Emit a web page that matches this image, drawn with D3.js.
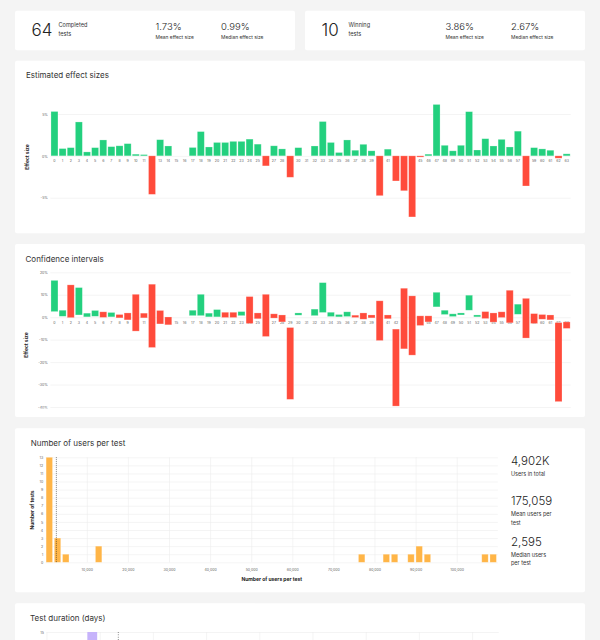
<!DOCTYPE html>
<html>
<head>
<meta charset="utf-8">
<script src="https://cdn.jsdelivr.net/npm/d3@7"></script>
<style>
  html, body { margin: 0; padding: 0; background: #f4f4f4; }
  svg { display: block; font-family: Inter, "Noto Sans", sans-serif; }
</style>
</head>
<body>
<svg id="chart"></svg>
<script>
const W = 600, H = 640;

// summary cards
const summaryCount = ['64', '10'];
const summaryLabel = [['Completed', 'tests'], ['Winning', 'tests']];
const meanEffect = ['1.73%', '3.86%'];
const medianEffect = ['0.99%', '2.67%'];

// tests 0..63
const tests = [0, 1, 2, 3, 4, 5, 6, 7, 8, 9, 10, 11, 12, 13, 14, 15, 16, 17, 18, 19,
  20, 21, 22, 23, 24, 25, 26, 27, 28, 29, 30, 31, 32, 33, 34, 35, 36, 37, 38, 39,
  40, 41, 42, 43, 44, 45, 46, 47, 48, 49, 50, 51, 52, 53, 54, 55, 56, 57, 58, 59,
  60, 61, 62, 63];

// estimated effect size (%)
const effectSize = [5.3, 0.87, 0.98, 4.05, 0.47, 0.98, 1.9, 1.1, 1.2, 1.46,
  0.2, 0.15, -4.6, 1.93, 1.18, 0, 0, 1.0, 2.9, 1.06,
  1.6, 1.6, 1.73, 1.73, 2.0, 1.4, -1.2, 1.2, 0.83, -2.56,
  0.98, 0, 1.18, 4.1, 1.6, 0.4, 1.9, 0.67, 1.38, 0.6,
  -4.76, 0.8, -3.0, -4.17, -7.3, -0.15, 0.2, 6.14, 1.26, 0.6,
  1.26, 5.28, 0.7, 2.05, 1.18, 1.97, 1.06, 2.95, -3.6, 0.98,
  0.83, 0.67, -0.28, 0.24];

// confidence interval bounds (%)
const ciLow = [2.5, 0.4, -0.2, 1.0, 0.15, 0.4, -0.1, 0.15, -0.3, -1.2,
  -6.2, -0.3, -13.5, -3.0, -3.4, null, null, 0.7, 0.7, 0.15,
  0.15, -0.15, -0.15, 0.7, -2.8, -0.7, -8.6, -0.4, -2.1, -36.6,
  0.9, null, 0.7, 2.1, 0.3, 0.15, 0.3, -0.15, -0.9, -0.3,
  -10.4, -0.7, -39.6, -14.1, -16.9, -3.7, -2.1, 4.6, 1.2, 0.3,
  1.0, 3.1, 0.15, -0.6, -2.2, -0.15, -2.5, 1.3, -9.3, -2.8,
  -0.9, -1.2, -37.6, -5.0];
const ciHigh = [16.4, 3.1, 14.4, 13.2, 1.8, 3.0, 2.4, 2.1, 1.2, 1.9,
  10.2, 1.8, 14.7, 3.0, 0.1, null, null, 3.1, 10.2, 1.8,
  3.4, 2.2, 2.2, 2.5, 9.2, 1.9, 10.2, 1.5, 1.0, -4.6,
  1.9, null, 3.6, 15.4, 2.2, 1.2, 2.4, 0.9, 1.9, 1.0,
  7.3, 1.0, -5.3, 12.9, 9.5, 0.6, 0.6, 11.1, 3.1, 1.5,
  1.9, 9.8, 1.0, 2.5, 1.9, 2.4, 12.0, 5.8, 8.4, 1.6,
  1.2, 1.0, -2.4, -2.1];

const effectTicks = [-5, 0, 5];
const ciTicks = [-40, -30, -20, -10, 0, 10, 20];

// users per test histogram
const userBinStart = [0, 2000, 4000, 12000, 76000, 82000, 84000, 88000, 90000, 92000, 106000, 108000];
const userBinCount = [13, 3, 1, 2, 1, 1, 1, 1, 2, 1, 1, 1];
const userBinWidth = 2000;
const userTicks = [10000, 20000, 30000, 40000, 50000, 60000, 70000, 80000, 90000, 100000];
const medianUsers = 2595;
const userStatValue = ['4,902K', '175,059', '2,595'];
const userStatLabel = [['Users in total'], ['Mean users per', 'test'], ['Median users', 'per test']];

// test duration histogram (only the top is visible)
const durationBinStart = [7.6];
const durationBinCount = [15];
const durationBinWidth = 2;
const durationTicks = [0, 10, 20, 30, 40, 50, 60, 70, 80];
const durationCountTicks = [15];
const medianDuration = 13.5;

const green = '#23d07e', red = '#ff4b3b', orange = '#ffb547', purple = '#c6b3fb';
const gridColor = '#ededed';

const svg = d3.select('#chart').attr('width', W).attr('height', H);
svg.append('rect').attr('width', W).attr('height', H).attr('fill', '#f4f4f4');

function card(x, y, w, h) {
  return svg.append('rect')
    .attr('x', x).attr('y', y).attr('width', w).attr('height', h)
    .attr('rx', 2).attr('fill', '#fff');
}

function title(x, y, str) {
  svg.append('text').attr('x', x).attr('y', y)
    .attr('font-size', 8).attr('fill', '#333').text(str);
}

function rotatedLabel(g, x, y, str) {
  g.append('text')
    .attr('transform', 'translate(' + x + ',' + y + ') rotate(-90)')
    .attr('text-anchor', 'middle')
    .attr('font-size', 5).attr('font-weight', 700).attr('fill', '#222')
    .text(str);
}

function styleAxis(g, size) {
  g.select('.domain').remove();
  g.selectAll('.tick line').attr('stroke', gridColor).attr('stroke-width', 0.6);
  g.selectAll('.tick text').attr('fill', '#666').attr('font-size', size).attr('font-family', 'Inter, sans-serif');
}

// ---------- summary cards
summaryCount.forEach((c, i) => {
  const cx = 15 + i * 290;
  card(cx, 10.7, 280, 39.5);
  svg.append('text').attr('x', cx + 16.5).attr('y', 36)
    .attr('font-size', 17).attr('font-weight', 300).attr('fill', '#222').text(c);
  summaryLabel[i].forEach((s, j) => {
    svg.append('text').attr('x', cx + 43.5).attr('y', 27.3 + j * 8.3)
      .attr('font-size', 5.6).attr('fill', '#333').text(s);
  });
  [[meanEffect[i], 'Mean effect size', 140.5], [medianEffect[i], 'Median effect size', 206]].forEach(m => {
    svg.append('text').attr('x', cx + m[2]).attr('y', 30)
      .attr('font-size', 9.5).attr('font-weight', 300).attr('fill', '#222').text(m[0]);
    svg.append('text').attr('x', cx + m[2]).attr('y', 39)
      .attr('font-size', 4.9).attr('fill', '#333').text(m[1]);
  });
});

// ---------- estimated effect sizes
card(15, 60.7, 570, 172.5);
title(26, 78, 'Estimated effect sizes');

const xTest = d3.scaleBand().domain(tests).range([50.4, 570.7])
  .paddingInner(0.14).paddingOuter(0.07);

const yEff = d3.scaleLinear().domain([-5, 5]).range([197.7, 114]);
const effG = svg.append('g');

effG.append('g')
  .attr('transform', 'translate(50.4,0)')
  .call(d3.axisLeft(yEff).tickValues(effectTicks).tickSize(-520.3).tickPadding(2.5).tickFormat(d => d + '%'))
  .call(g => styleAxis(g, 3.6));

effG.append('g')
  .attr('transform', 'translate(0,' + yEff(0) + ')')
  .call(d3.axisBottom(xTest).tickSize(0).tickPadding(4))
  .call(g => styleAxis(g, 3.6));

effG.append('g').selectAll('rect')
  .data(tests.filter(t => effectSize[t] !== 0))
  .enter().append('rect')
  .attr('x', t => xTest(t))
  .attr('width', xTest.bandwidth())
  .attr('y', t => Math.min(yEff(effectSize[t]), yEff(0)))
  .attr('height', t => Math.abs(yEff(effectSize[t]) - yEff(0)))
  .attr('fill', t => effectSize[t] >= 0 ? green : red)
  .attr('stroke', '#fff').attr('stroke-opacity', 0.35).attr('stroke-width', 0.7);

rotatedLabel(effG, 29, 157, 'Effect size');

// ---------- confidence intervals
card(15, 244, 570, 173);
title(25.5, 261.7, 'Confidence intervals');

svg.append('defs').append('clipPath').attr('id', 'ci-clip')
  .append('rect').attr('x', 15).attr('y', 244).attr('width', 570).attr('height', 164.6);

const yCI = d3.scaleLinear().domain([-40, 20]).range([407, 272.3]);
const ciG = svg.append('g').attr('clip-path', 'url(#ci-clip)');

ciG.append('g')
  .attr('transform', 'translate(50.4,0)')
  .call(d3.axisLeft(yCI).tickValues(ciTicks).tickSize(-520.3).tickPadding(2.5).tickFormat(d => d + '%'))
  .call(g => styleAxis(g, 3.6));

ciG.append('g')
  .attr('transform', 'translate(0,' + yCI(0) + ')')
  .call(d3.axisBottom(xTest).tickSize(0).tickPadding(3.8))
  .call(g => styleAxis(g, 3.6));

ciG.append('g').selectAll('rect')
  .data(tests.filter(t => ciLow[t] !== null))
  .enter().append('rect')
  .attr('x', t => xTest(t))
  .attr('width', xTest.bandwidth())
  .attr('y', t => yCI(ciHigh[t]))
  .attr('height', t => yCI(ciLow[t]) - yCI(ciHigh[t]))
  .attr('fill', t => ciLow[t] > 0 ? green : red)
  .attr('stroke', '#fff').attr('stroke-opacity', 0.35).attr('stroke-width', 0.7);

rotatedLabel(ciG, 28, 345, 'Effect size');

// ---------- users per test
card(15, 428.3, 570, 164);
title(30.7, 446, 'Number of users per test');

const xUsers = d3.scaleLinear().domain([0, 110000]).range([45.7, 497.8]);
const yCount = d3.scaleLinear().domain([0, 13]).range([562.3, 457.3]);
const usersG = svg.append('g');

usersG.append('g')
  .attr('transform', 'translate(45.7,0)')
  .call(d3.axisLeft(yCount).ticks(13).tickSize(-452.1).tickPadding(2.5))
  .call(g => styleAxis(g, 3.6));

usersG.append('g')
  .attr('transform', 'translate(0,' + yCount(0) + ')')
  .call(d3.axisBottom(xUsers).tickValues(userTicks).tickSize(-105).tickPadding(6).tickFormat(d3.format(',')))
  .call(g => styleAxis(g, 3.6));

usersG.append('g').selectAll('rect')
  .data(userBinStart)
  .enter().append('rect')
  .attr('x', (d, i) => xUsers(d) + 0.4)
  .attr('width', d => xUsers(d + userBinWidth) - xUsers(d) - 1.8)
  .attr('y', (d, i) => yCount(userBinCount[i]))
  .attr('height', (d, i) => yCount(0) - yCount(userBinCount[i]))
  .attr('fill', orange)
  .attr('stroke', '#fff').attr('stroke-opacity', 0.35).attr('stroke-width', 0.7);

usersG.append('line')
  .attr('x1', xUsers(medianUsers)).attr('x2', xUsers(medianUsers))
  .attr('y1', yCount(13)).attr('y2', yCount(0))
  .attr('stroke', '#222').attr('stroke-width', 0.7).attr('stroke-dasharray', '0.8,1.2');

rotatedLabel(usersG, 34, 510, 'Number of tests');
usersG.append('text')
  .attr('x', (xUsers.range()[0] + xUsers.range()[1]) / 2).attr('y', 580.5)
  .attr('text-anchor', 'middle')
  .attr('font-size', 5).attr('font-weight', 700).attr('fill', '#222')
  .text('Number of users per test');

userStatValue.forEach((v, i) => {
  const top = 465 + i * 40.4;
  svg.append('text').attr('x', 511).attr('y', top)
    .attr('font-size', 11.5).attr('font-weight', 300).attr('fill', '#222').text(v);
  userStatLabel[i].forEach((s, j) => {
    svg.append('text').attr('x', 511).attr('y', top + 11 + j * 8.3)
      .attr('font-size', 5.5).attr('fill', '#333').text(s);
  });
});

// ---------- test duration
card(15, 603.3, 570, 60);
title(30, 620.5, 'Test duration (days)');

const xDays = d3.scaleLinear().domain([0, 85]).range([46.5, 498.7]);
const yDays = d3.scaleLinear().domain([0, 15]).range([632 + 15 * 8.5, 632]);
const durG = svg.append('g');

durG.append('g')
  .attr('transform', 'translate(46.5,0)')
  .call(d3.axisLeft(yDays).tickValues(durationCountTicks).tickSize(-452.2).tickPadding(2.5))
  .call(g => styleAxis(g, 3.6));

durG.append('g')
  .attr('transform', 'translate(0,' + yDays(0) + ')')
  .call(d3.axisBottom(xDays).tickValues(durationTicks).tickSize(-(yDays(0) - yDays(15))).tickFormat(''))
  .call(g => styleAxis(g, 3.6));

durG.append('g').selectAll('rect')
  .data(durationBinStart)
  .enter().append('rect')
  .attr('x', d => xDays(d) + 0.4)
  .attr('width', d => xDays(d + durationBinWidth) - xDays(d) - 0.8)
  .attr('y', (d, i) => yDays(durationBinCount[i]))
  .attr('height', (d, i) => yDays(0) - yDays(durationBinCount[i]))
  .attr('fill', purple);

durG.append('line')
  .attr('x1', xDays(medianDuration)).attr('x2', xDays(medianDuration))
  .attr('y1', yDays(15)).attr('y2', yDays(0))
  .attr('stroke', '#333').attr('stroke-width', 0.7).attr('stroke-dasharray', '0.8,1.6');
</script>
</body>
</html>
